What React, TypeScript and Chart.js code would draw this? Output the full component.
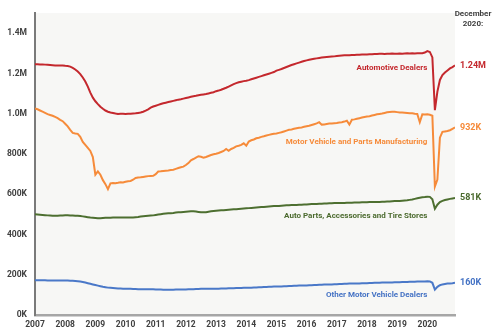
import React, { useEffect, useRef } from "react";
import { Chart, registerables } from "chart.js";

Chart.register(...registerables);

const startYear = 2007;
const yearTicks = [2007, 2008, 2009, 2010, 2011, 2012, 2013, 2014, 2015, 2016, 2017, 2018, 2019, 2020];
const yTicks = [0, 200000, 400000, 600000, 800000, 1000000, 1200000, 1400000];
const yTickLabels = ["0K", "200K", "400K", "600K", "800K", "1.0M", "1.2M", "1.4M"];

// Monthly employment, thousands, Jan 2007 – Dec 2020
const automotiveDealers = [
  1246, 1246, 1245, 1245, 1244, 1243, 1242, 1241, 1240, 1240, 1240, 1240,
  1238, 1237, 1234, 1228, 1220, 1210, 1197, 1180, 1160, 1135, 1105, 1080,
  1062, 1048, 1035, 1025, 1016, 1010, 1006, 1004, 1001, 999, 1000, 1000,
  999, 1000, 1000, 1001, 1002, 1004, 1006, 1010, 1015, 1022, 1030, 1036,
  1040, 1044, 1048, 1052, 1055, 1058, 1061, 1064, 1067, 1070, 1072, 1075,
  1078, 1081, 1084, 1087, 1089, 1092, 1094, 1096, 1098, 1101, 1104, 1107,
  1112, 1115, 1119, 1124, 1129, 1135, 1141, 1147, 1152, 1156, 1159, 1162,
  1164, 1167, 1171, 1175, 1179, 1183, 1187, 1191, 1195, 1199, 1203, 1207,
  1214, 1218, 1222, 1227, 1232, 1237, 1242, 1246, 1250, 1254, 1258, 1262,
  1265, 1268, 1271, 1273, 1275, 1277, 1279, 1281, 1282, 1283, 1284, 1285,
  1287, 1288, 1289, 1290, 1290, 1291, 1292, 1292, 1293, 1293, 1294, 1294,
  1294, 1295, 1296, 1297, 1297, 1298, 1298, 1297, 1298, 1298, 1299, 1298,
  1298, 1299, 1298, 1299, 1300, 1299, 1300, 1299, 1300, 1300, 1301, 1304,
  1311, 1307, 1280, 1018, 1110, 1168, 1192, 1205, 1215, 1225, 1232, 1240,
];

const motorVehicleMfg = [
  1026, 1022, 1016, 1010, 1004, 998, 994, 990, 984, 978, 970, 963,
  950, 937, 920, 905, 902, 900, 885, 860, 845, 830, 815, 785,
  697, 713, 697, 670, 650, 625, 654, 656, 655, 657, 660, 658,
  662, 665, 666, 672, 681, 683, 684, 686, 688, 690, 691, 692,
  700, 713, 714, 716, 717, 718, 720, 722, 726, 730, 734, 737,
  745, 755, 769, 775, 782, 789, 786, 782, 785, 790, 795, 799,
  801, 805, 810, 815, 825, 816, 825, 830, 838, 841, 845, 853,
  841, 862, 868, 872, 878, 881, 885, 888, 892, 895, 898, 900,
  902, 905, 908, 912, 916, 920, 922, 925, 928, 930, 932, 935,
  938, 940, 944, 948, 952, 958, 946, 947, 949, 951, 952, 953,
  954, 956, 958, 961, 965, 946, 970, 972, 975, 978, 981, 984,
  986, 988, 991, 994, 997, 999, 1001, 1004, 1007, 1009, 1010, 1010,
  1008, 1006, 1006, 1005, 1004, 1003, 1002, 1000, 999, 958, 997, 996,
  997, 995, 990, 638, 673, 881, 910, 912, 914, 918, 925, 932,
];

const autoPartsStores = [
  500, 499, 498, 497, 496, 495, 494, 493, 493, 493, 494, 494,
  495, 495, 494, 494, 493, 493, 492, 490, 488, 486, 484, 483,
  482, 481, 481, 482, 483, 483, 483, 484, 484, 484, 484, 485,
  485, 485, 485, 485, 486, 487, 489, 491, 492, 493, 494, 495,
  497, 499, 501, 503, 504, 505, 506, 507, 509, 510, 511, 512,
  513, 514, 515, 515, 514, 512, 510, 510, 511, 513, 515, 517,
  518, 519, 520, 521, 522, 523, 524, 525, 526, 527, 528, 529,
  530, 531, 532, 533, 534, 535, 536, 537, 538, 539, 540, 541,
  541, 542, 543, 544, 545, 545, 546, 547, 547, 548, 548, 549,
  549, 550, 551, 551, 552, 553, 553, 554, 554, 555, 555, 556,
  556, 556, 557, 557, 558, 558, 558, 559, 559, 559, 560, 560,
  560, 561, 561, 561, 562, 562, 563, 563, 564, 564, 565, 566,
  566, 567, 568, 569, 570, 572, 574, 577, 580, 583, 585, 586,
  588, 587, 575, 528, 548, 561, 567, 571, 574, 577, 579, 581,
];

const otherDealers = [
  173, 173, 173, 173, 173, 172, 172, 172, 172, 172, 172, 171,
  171, 171, 170, 170, 169, 168, 166, 164, 161, 158, 155, 152,
  149, 146, 143, 140, 138, 136, 135, 134, 133, 132, 132, 131,
  131, 130, 130, 129, 129, 128, 128, 128, 128, 128, 128, 128,
  127, 127, 127, 126, 126, 126, 126, 126, 127, 127, 127, 127,
  127, 128, 128, 128, 129, 129, 130, 130, 130, 131, 131, 131,
  131, 131, 132, 132, 132, 133, 133, 133, 134, 134, 134, 135,
  135, 136, 136, 137, 137, 138, 138, 139, 139, 140, 140, 141,
  141, 142, 142, 143, 143, 144, 144, 145, 145, 146, 146, 147,
  147, 148, 148, 149, 149, 150, 150, 151, 151, 152, 152, 153,
  153, 154, 154, 155, 155, 156, 156, 157, 157, 157, 158, 158,
  158, 159, 159, 160, 160, 160, 161, 161, 161, 162, 162, 163,
  163, 163, 164, 164, 164, 165, 165, 165, 166, 166, 166, 167,
  168, 167, 160, 126, 140, 148, 152, 154, 156, 157, 158, 160,
];

const seriesNames = [
  "Automotive Dealers",
  "Motor Vehicle and Parts Manufacturing",
  "Auto Parts, Accessories and Tire Stores",
  "Other Motor Vehicle Dealers",
];
const seriesValues = [automotiveDealers, motorVehicleMfg, autoPartsStores, otherDealers];
const endLabels = ["1.24M", "932K", "581K", "160K"];
const nameLabelY = [1226000, 861000, 492000, 101000];
const nameLabelX = 2020;
const lineColors = ["#c4282d", "#f68b3a", "#4d6f30", "#4a78c8"];
const textColors = ["#c4282d", "#f68b3a", "#4b6a2e", "#4472c4"];

const FONT = "Roboto, 'DejaVu Sans Condensed', sans-serif";

export default function App() {
  const ref = useRef<HTMLCanvasElement | null>(null);

  useEffect(() => {
    document.body.style.margin = "0";
    const canvas = ref.current;
    if (!canvas) return;

    const toPoints = (arr: number[]) =>
      arr.map((v, i) => ({ x: startYear + i / 12, y: v * 1000 }));

    const bgPlugin = {
      id: "bg",
      beforeDraw(chart: any) {
        const { ctx, chartArea } = chart;
        ctx.save();
        ctx.fillStyle = "#f7f7f5";
        ctx.fillRect(chartArea.left, chartArea.top, chartArea.right - chartArea.left, chartArea.bottom - chartArea.top);
        ctx.restore();
      },
    };

    const labelPlugin = {
      id: "labels",
      afterDraw(chart: any) {
        const { ctx, scales } = chart;
        const xs = scales.x;
        const ys = scales.y;
        ctx.save();
        ctx.textBaseline = "middle";
        ctx.font = `bold 8px ${FONT}`;
        ctx.textAlign = "right";
        seriesNames.forEach((name, i) => {
          ctx.fillStyle = textColors[i];
          ctx.fillText(name, xs.getPixelForValue(nameLabelX), ys.getPixelForValue(nameLabelY[i]));
        });
        ctx.font = `bold 9px ${FONT}`;
        ctx.textAlign = "left";
        seriesValues.forEach((arr, i) => {
          const last = arr[arr.length - 1] * 1000;
          ctx.fillStyle = textColors[i];
          ctx.fillText(endLabels[i], 460, ys.getPixelForValue(last));
        });
        ctx.font = `bold 8px ${FONT}`;
        ctx.textAlign = "center";
        ctx.fillStyle = "#404040";
        ctx.fillText("December", 473, 14);
        ctx.fillText("2020:", 473, 24);
        ctx.restore();
      },
    };

    const chart = new Chart(canvas, {
      type: "line",
      data: {
        datasets: seriesValues.map((arr, i) => ({
          label: seriesNames[i],
          data: toPoints(arr),
          borderColor: lineColors[i],
          backgroundColor: lineColors[i],
          borderWidth: 2,
          pointRadius: 0,
          tension: 0,
          fill: false,
        })),
      },
      options: {
        animation: false,
        responsive: false,
        layout: { padding: { top: 3, right: 45, left: 0, bottom: 0 } },
        plugins: { legend: { display: false }, tooltip: { enabled: false } },
        scales: {
          x: {
            type: "linear",
            min: startYear,
            max: 2020 + 11 / 12,
            grid: { display: false, drawTicks: false },
            border: { display: true, color: "#a6a6a6", width: 2.5 },
            afterBuildTicks: (s: any) => {
              s.ticks = yearTicks.map((v) => ({ value: v }));
            },
            afterFit: (s: any) => {
              s.height = 19;
            },
            ticks: {
              autoSkip: false,
              maxRotation: 0,
              padding: 5,
              color: "#404040",
              font: { family: FONT, size: 8.5, weight: "bold" },
              callback: (v: any) => String(v),
            },
          },
          y: {
            type: "linear",
            min: 0,
            max: 1500000,
            grid: { display: false, drawTicks: false },
            border: { display: true, color: "#7a7a7a", width: 2 },
            afterBuildTicks: (s: any) => {
              s.ticks = yTicks.map((v) => ({ value: v }));
            },
            afterFit: (s: any) => {
              s.width = 35;
            },
            ticks: {
              padding: 8,
              color: "#404040",
              font: { family: FONT, size: 8.5, weight: "bold" },
              callback: (v: any) => {
                const idx = yTicks.indexOf(Number(v));
                return idx >= 0 ? yTickLabels[idx] : "";
              },
            },
          },
        },
      },
      plugins: [bgPlugin, labelPlugin],
    } as any);

    return () => chart.destroy();
  }, []);

  return (
    <div style={{ width: 500, height: 334 }}>
      <canvas ref={ref} width={500} height={334} />
    </div>
  );
}
